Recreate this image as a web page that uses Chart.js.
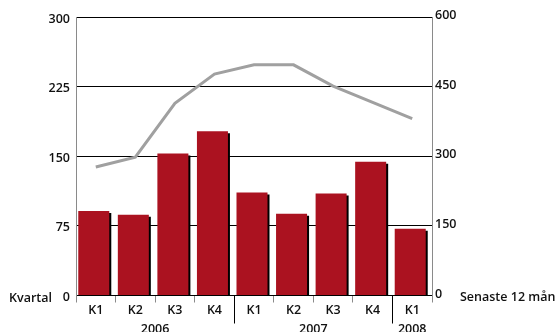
<!DOCTYPE html>
<html>
<head>
<meta charset="utf-8">
<script src="https://cdn.jsdelivr.net/npm/chart.js@4/dist/chart.umd.min.js"></script>
<style>
  html, body { margin: 0; padding: 0; background: #fff; }
  #wrap { width: 558px; height: 332px; }
</style>
</head>
<body>
<div id="wrap"><canvas id="c" width="558" height="332"></canvas></div>
<script>
// Quarterly figures (left axis) and rolling 12-month total (right axis)
const quarters = ['K1', 'K2', 'K3', 'K4', 'K1', 'K2', 'K3', 'K4', 'K1'];
const years = ['2006', '2007', '2008'];
const yearFirstIndex = [0, 4, 8];
const yearLastIndex = [3, 7, 8];
const quarterValues = [91, 87, 153, 177, 111, 88, 110, 144, 72];
const rollingValues = [277, 298, 414, 477, 497, 497, 451, 416, 381];
const leftTicks = [0, 75, 150, 225, 300];
const rightTicks = [0, 150, 300, 450, 600];
const leftTitle = 'Kvartal';
const rightTitle = 'Senaste 12 mån';

const FONT = { family: '"Open Sans", "DejaVu Sans", sans-serif', size: 12.5, weight: '600' };
const TEXT = '#111';
const BAR_RED = '#ab1220';
const LINE_GREY = '#a0a0a0';
const AXIS_GREY = '#8a8a8a';

// Hard black drop shadow to the right of every bar
const barShadow = {
  id: 'barShadow',
  beforeDatasetDraw(chart, args) {
    if (args.meta.type !== 'bar') return;
    const ctx = chart.ctx;
    ctx.save();
    ctx.translate(-2, 0);
    ctx.shadowColor = '#000';
    ctx.shadowOffsetX = 2;
    ctx.shadowOffsetY = 2;
    ctx.shadowBlur = 0;
  },
  afterDatasetDraw(chart, args) {
    if (args.meta.type !== 'bar') return;
    chart.ctx.restore();
  }
};

// Year separators, year labels and the two axis captions
const extras = {
  id: 'extras',
  afterDraw(chart) {
    const ctx = chart.ctx;
    const x = chart.scales.x;
    const area = chart.chartArea;
    ctx.save();
    // separators between years
    ctx.strokeStyle = '#000';
    ctx.lineWidth = 1;
    for (let g = 1; g < years.length; g++) {
      const i = yearFirstIndex[g];
      const px = Math.round((x.getPixelForValue(i - 1) + x.getPixelForValue(i)) / 2) + 0.5;
      ctx.beginPath();
      ctx.moveTo(px, area.bottom);
      ctx.lineTo(px, area.bottom + 28);
      ctx.stroke();
    }
    ctx.font = `${FONT.weight} ${FONT.size}px ${FONT.family}`;
    ctx.fillStyle = TEXT;
    ctx.textBaseline = 'alphabetic';
    ctx.textAlign = 'center';
    years.forEach((y, g) => {
      const cx = (x.getPixelForValue(yearFirstIndex[g]) + x.getPixelForValue(yearLastIndex[g])) / 2;
      ctx.fillText(y, cx, area.bottom + 37);
    });
    const zeroY = chart.scales.y.getPixelForValue(0);
    ctx.textAlign = 'left';
    ctx.fillText(leftTitle, 9, zeroY + 6.5);
    ctx.fillText(rightTitle, area.right + 28, zeroY + 5.5);
    ctx.restore();
  }
};

new Chart(document.getElementById('c'), {
  data: {
    labels: quarters,
    datasets: [
      {
        type: 'line',
        label: rightTitle,
        data: rollingValues,
        yAxisID: 'y2',
        borderColor: LINE_GREY,
        borderWidth: 3,
        pointRadius: 0,
        tension: 0,
        order: 0
      },
      {
        type: 'bar',
        label: leftTitle,
        data: quarterValues,
        yAxisID: 'y',
        backgroundColor: BAR_RED,
        borderWidth: 0,
        barPercentage: 0.784,
        categoryPercentage: 1,
        clip: 0,
        order: 1
      }
    ]
  },
  options: {
    responsive: false,
    animation: false,
    devicePixelRatio: 1,
    layout: { padding: { top: 17, left: 0, right: 0, bottom: 0 } },
    plugins: { legend: { display: false }, tooltip: { enabled: false } },
    scales: {
      x: {
        type: 'category',
        offset: true,
        grid: {
          offset: true,
          drawOnChartArea: false,
          drawTicks: true,
          tickLength: 7,
          color: AXIS_GREY
        },
        border: { display: false },
        ticks: { font: FONT, color: TEXT, padding: 0, maxRotation: 0, autoSkip: false },
        afterFit(s) { s.height = 36.5; }
      },
      y: {
        position: 'left',
        min: 0,
        max: 300,
        afterBuildTicks(s) { s.ticks = leftTicks.map(v => ({ value: v })); },
        grid: { color: '#000', lineWidth: 1, drawTicks: false },
        border: { display: true, color: AXIS_GREY },
        ticks: { font: FONT, color: TEXT, padding: 6, labelOffset: 2 },
        afterFit(s) { s.width = 76; }
      },
      y2: {
        position: 'right',
        min: 0,
        max: 600,
        afterBuildTicks(s) { s.ticks = rightTicks.map(v => ({ value: v })); },
        grid: { display: false, drawTicks: false },
        border: { display: true, color: AXIS_GREY },
        ticks: { font: FONT, color: TEXT, padding: 3, labelOffset: -1.5 },
        afterFit(s) { s.width = 126; }
      }
    }
  },
  plugins: [barShadow, extras]
});
</script>
</body>
</html>
